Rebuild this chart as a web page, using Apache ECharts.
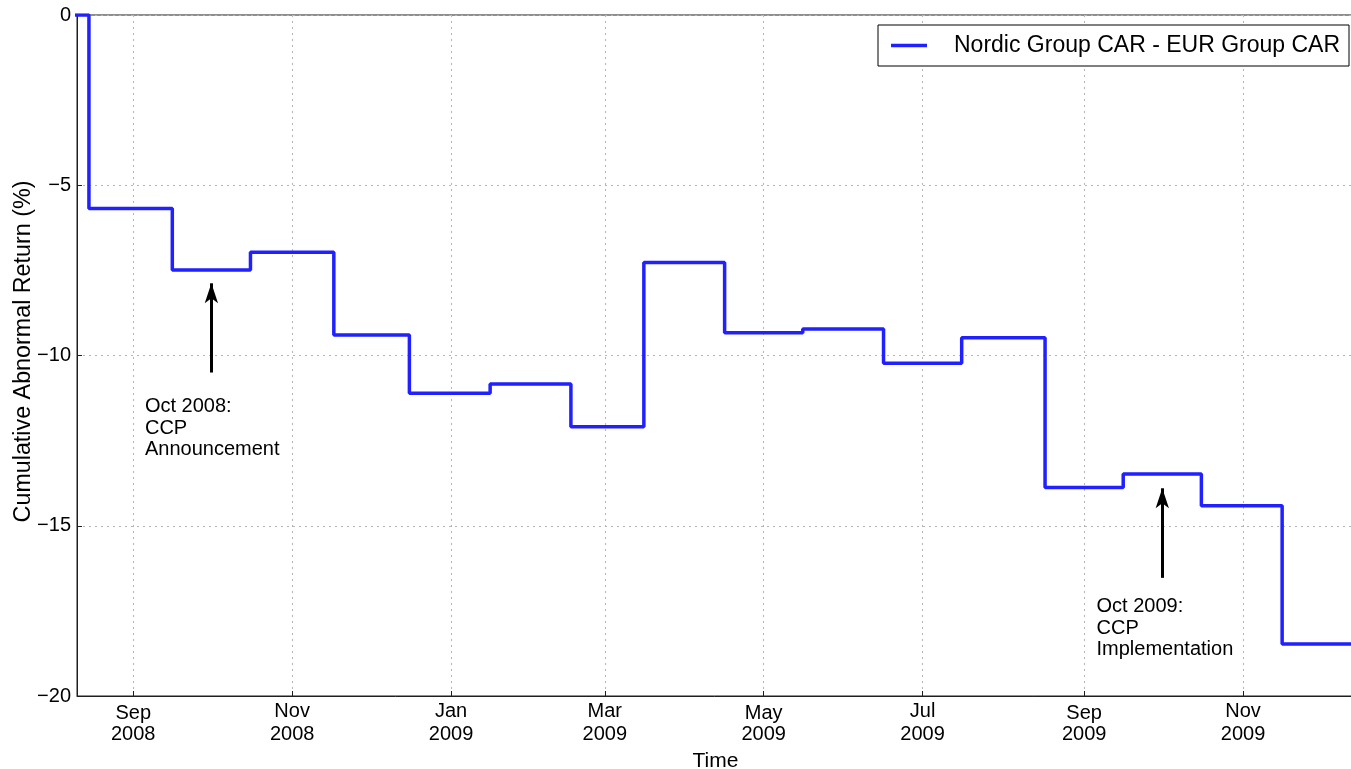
<!DOCTYPE html>
<html><head><meta charset="utf-8">
<script src="https://cdn.jsdelivr.net/npm/echarts@6/dist/echarts.min.js"></script>
<style>html,body{margin:0;padding:0;background:#fff}#c{width:1351px;height:769px}</style>
</head><body><div id="c"></div>
<script>
// ---- data ----
const stepDates = ['2008-07-15','2008-08-15','2008-09-16','2008-10-16','2008-11-17','2008-12-16',
  '2009-01-16','2009-02-16','2009-03-16','2009-04-16','2009-05-16','2009-06-16','2009-07-16',
  '2009-08-17','2009-09-16','2009-10-16','2009-11-16','2009-12-16'];
const carDiff = [0, -5.68, -7.49, -6.97, -9.40, -11.11, -10.84, -12.09, -7.27, -9.33, -9.22,
  -10.23, -9.48, -13.88, -13.48, -14.41, -18.47, -18.47];
const seriesName = 'Nordic Group CAR - EUR Group CAR';
const xTickDates = ['2008-09-01','2008-11-01','2009-01-01','2009-03-01','2009-05-01','2009-07-01','2009-09-01','2009-11-01'];
const monthNames = ['Jan','Feb','Mar','Apr','May','Jun','Jul','Aug','Sep','Oct','Nov','Dec'];
const xRange = ['2008-08-10T10:00:00', '2009-12-13T14:00:00'];
const yTicks = [-20, -15, -10, -5, 0];
const annotationDates = ['2008-10-01', '2009-10-01'];
const annotationArrowFrom = [-10.5, -16.53];
const annotationArrowTo = [-7.88, -13.9];
const annotationTextDates = ['2008-09-05T12:00:00', '2009-09-05T18:00:00'];
const annotationTextY = [-11.19, -17.06];
const annotationTexts = [['Oct 2008:', 'CCP', 'Announcement'], ['Oct 2009:', 'CCP', 'Implementation']];

// ---- helpers ----
const ts = s => new Date(s.length === 10 ? s + 'T00:00:00' : s).getTime();
const FONT = 'Liberation Sans, Arial, Helvetica, sans-serif';

const chart = echarts.init(document.getElementById('c'), null, {renderer: 'canvas'});
const lineData = stepDates.map((d, i) => [ts(d), carDiff[i]]);
const tickVals = xTickDates.map(ts);

const option = {
  animation: false,
  backgroundColor: '#fff',
  grid: {left: 77, top: 15, width: 1277, height: 681, containLabel: false, outerBoundsMode: 'none',
    show: true, borderColor: '#1e1e1e', borderWidth: 1, backgroundColor: 'transparent'},
  legend: {
    right: 2, top: 25,
    backgroundColor: '#fff', borderColor: '#000', borderWidth: 1,
    padding: [9, 9, 9, 13],
    itemWidth: 36, itemHeight: 3.5,
    data: [{name: seriesName, icon: 'rect'}],
    formatter: n => '{t|' + n + '}',
    textStyle: {rich: {t: {fontFamily: FONT, fontSize: 23, color: '#000', padding: [0, 0, 0, 22]}}}
  },
  xAxis: {
    type: 'value',
    min: ts(xRange[0]), max: ts(xRange[1]),
    name: 'Time', nameLocation: 'middle', nameGap: 55, nameMoveOverlap: false,
    nameTextStyle: {fontFamily: FONT, fontSize: 21, color: '#000'},
    axisLine: {show: true, onZero: false, lineStyle: {color: '#1e1e1e', width: 1}},
    axisTick: {show: true, inside: true, length: 5, customValues: tickVals, lineStyle: {color: '#1e1e1e'}},
    splitLine: {show: true, lineStyle: {color: '#b5b5b5', width: 1, type: [2, 4]}},
    axisLabel: {
      customValues: tickVals,
      margin: 4,
      hideOverlap: false,
      showMinLabel: true, showMaxLabel: true,
      formatter: v => {
        const d = new Date(v);
        const m = monthNames[d.getMonth()];
        const st = /[gjpqy]/.test(m) ? 'd' : 'n';
        return '{' + st + '|' + m + '}\n{n|' + d.getFullYear() + '}';
      },
      rich: {
        n: {fontFamily: FONT, fontSize: 20, lineHeight: 23, color: '#000'},
        d: {fontFamily: FONT, fontSize: 20, lineHeight: 23, color: '#000', padding: [4, 0, 0, 0]}
      }
    }
  },
  yAxis: {
    type: 'value', min: yTicks[0], max: yTicks[yTicks.length - 1], interval: yTicks[1] - yTicks[0],
    name: 'Cumulative Abnormal Return (%)', nameLocation: 'middle', nameGap: 42, nameRotate: 90,
    nameMoveOverlap: false,
    nameTextStyle: {fontFamily: FONT, fontSize: 23.3, color: '#000', padding: [0, 0, 0, 8]},
    axisLine: {show: true, onZero: false, lineStyle: {color: '#1e1e1e', width: 1}},
    axisTick: {show: true, inside: true, length: 5, lineStyle: {color: '#1e1e1e'}},
    splitLine: {show: true, lineStyle: {color: '#b5b5b5', width: 1, type: [2, 4]}},
    axisLabel: {
      margin: 6, fontFamily: FONT, fontSize: 20, color: '#000',
      formatter: v => (v < 0 ? '\u2212' + Math.abs(v) : String(v))
    }
  },
  series: [{
    name: seriesName,
    type: 'line',
    step: 'end',
    symbol: 'none',
    clip: true,
    data: lineData,
    lineStyle: {color: '#2121ff', width: 3.5},
    itemStyle: {color: '#2121ff'},
    markLine: {
      silent: true,
      symbol: ['none', 'arrow'],
      symbolSize: [10, 20],
      label: {show: false},
      lineStyle: {color: '#000', width: 3, type: 'solid'},
      emphasis: {disabled: true},
      data: annotationDates.map((d, i) => [
        {coord: [ts(d), annotationArrowFrom[i]]},
        {coord: [ts(d), annotationArrowTo[i]]}
      ])
    }
  }]
};
chart.setOption(option);

const graphics = annotationTexts.map((lines, i) => {
  const p = chart.convertToPixel({gridIndex: 0}, [ts(annotationTextDates[i]), annotationTextY[i]]);
  return {
    type: 'text', silent: true,
    style: {
      text: lines.join('\n'), x: p[0], y: p[1],
      font: '20px ' + FONT, fill: '#000', lineHeight: 21.5,
      textAlign: 'left', textVerticalAlign: 'top', align: 'left', verticalAlign: 'top'
    }
  };
});
chart.setOption({graphic: graphics});
</script>
</body></html>
